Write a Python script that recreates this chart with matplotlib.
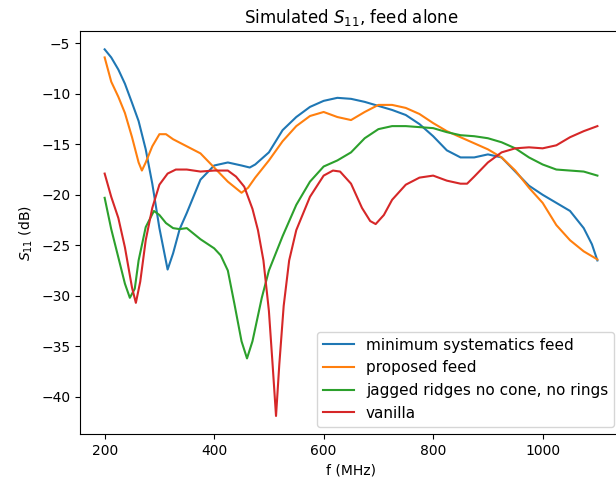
import matplotlib
matplotlib.use('Agg')
import matplotlib.pyplot as plt

# minimum systematics feed
f_min = [200, 212, 225, 237, 250, 262, 275, 287, 300, 315, 325, 337, 350, 375,
         400, 425, 450, 465, 475, 500, 525, 550, 575, 600, 625, 650, 675, 700,
         725, 750, 775, 800, 825, 850, 875, 900, 925, 950, 975, 1000, 1025,
         1050, 1075, 1090, 1100]
s_min = [-5.6, -6.4, -7.6, -9.0, -10.9, -12.7, -15.5, -18.9, -23.3, -27.4,
         -25.8, -23.4, -21.8, -18.5, -17.1, -16.8, -17.1, -17.3, -17.0, -15.8,
         -13.6, -12.3, -11.3, -10.7, -10.4, -10.5, -10.8, -11.2, -11.6, -12.1,
         -13.0, -14.2, -15.6, -16.3, -16.3, -16.0, -16.3, -17.7, -19.1, -20.0,
         -20.8, -21.6, -23.3, -24.9, -26.5]

# proposed feed
f_prop = [200, 212, 225, 237, 250, 262, 268, 275, 287, 300, 312, 325, 350, 375,
          400, 425, 450, 462, 475, 500, 525, 550, 575, 600, 625, 650, 675, 700,
          725, 750, 775, 800, 825, 850, 875, 900, 925, 950, 975, 1000, 1025,
          1050, 1075, 1100]
s_prop = [-6.4, -8.8, -10.3, -11.9, -14.3, -16.8, -17.6, -16.8, -15.2, -14.0,
          -14.0, -14.5, -15.2, -15.9, -17.3, -18.7, -19.8, -19.3, -18.3, -16.6,
          -14.7, -13.2, -12.2, -11.8, -12.3, -12.6, -11.8, -11.1, -11.1, -11.4,
          -12.0, -12.9, -13.7, -14.3, -14.9, -15.5, -16.3, -17.6, -19.3, -20.8,
          -23.0, -24.5, -25.6, -26.4]

# jagged ridges no cone, no rings
f_jag = [200, 212, 225, 237, 246, 255, 262, 275, 290, 300, 312, 325, 337, 350,
         375, 400, 412, 425, 437, 450, 460, 470, 487, 500, 525, 550, 575, 600,
         625, 650, 675, 700, 725, 750, 775, 800, 825, 850, 875, 900, 925, 950,
         975, 1000, 1025, 1050, 1075, 1100]
s_jag = [-20.3, -23.4, -26.2, -28.8, -30.2, -29.3, -26.5, -23.2, -21.6, -22.0,
         -22.8, -23.3, -23.4, -23.3, -24.4, -25.3, -26.0, -27.5, -30.8, -34.5,
         -36.2, -34.5, -30.2, -27.5, -24.1, -21.0, -18.7, -17.2, -16.6, -15.8,
         -14.4, -13.5, -13.2, -13.2, -13.3, -13.4, -13.8, -14.1, -14.2, -14.4,
         -14.8, -15.4, -16.3, -17.0, -17.5, -17.6, -17.7, -18.1]

# vanilla
f_van = [200, 212, 225, 237, 250, 257, 265, 275, 287, 300, 315, 330, 350, 375,
         400, 425, 440, 455, 470, 480, 490, 500, 507, 513, 519, 527, 537, 550,
         575, 600, 617, 630, 650, 670, 685, 695, 710, 725, 750, 775, 800, 825,
         850, 862, 875, 900, 925, 950, 975, 1000, 1025, 1050, 1075, 1100]
s_van = [-17.9, -20.2, -22.3, -25.2, -29.2, -30.7, -28.6, -24.5, -21.3, -19.0,
         -17.9, -17.5, -17.5, -17.7, -17.6, -17.6, -18.2, -19.2, -21.4, -23.5,
         -26.5, -31.5, -37.0, -41.9, -36.8, -31.0, -26.5, -23.5, -20.2, -18.1,
         -17.6, -17.7, -18.9, -21.3, -22.6, -22.9, -22.0, -20.5, -19.0, -18.3,
         -18.1, -18.6, -18.9, -18.9, -18.2, -16.8, -15.8, -15.4, -15.3, -15.4,
         -15.1, -14.3, -13.7, -13.2]

fig = plt.figure(figsize=(6.16, 4.87), dpi=100)
ax = fig.add_axes([0.1299, 0.1082, 0.8799, 0.8281])

ax.plot(f_min, s_min, label='minimum systematics feed')
ax.plot(f_prop, s_prop, label='proposed feed')
ax.plot(f_jag, s_jag, label='jagged ridges no cone, no rings')
ax.plot(f_van, s_van, label='vanilla')

ax.set_title('Simulated $S_{11}$, feed alone')
ax.set_xlabel('f (MHz)')
ax.set_ylabel('$S_{11}$ (dB)')
ax.legend(loc='lower right', fontsize=11)

fig.savefig('out.png', dpi=100)
